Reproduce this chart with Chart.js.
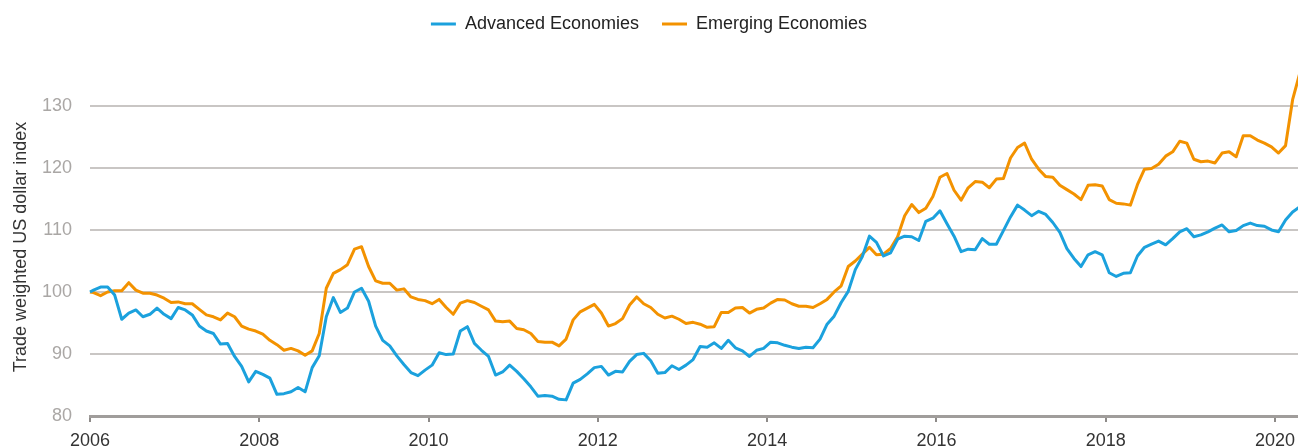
<!DOCTYPE html>
<html>
<head>
<meta charset="utf-8">
<script src="https://cdn.jsdelivr.net/npm/chart.js@4.4.1/dist/chart.umd.min.js"></script>
<style>
html,body{margin:0;padding:0;background:#ffffff;}
#wrap{width:1298px;height:448px;}
</style>
</head>
<body>
<div id="wrap"><canvas id="c" width="1298" height="448"></canvas></div>
<script>
// Index base: 100 at the start of 2006, then monthly values (Jan 2006 - Apr 2020)
const baseYear = 2006;
const baseValue = 100;

const advanced = [
  100.3,100.8,100.8,99.5,95.6,96.6,97.1,96.0,96.4,97.4,96.4,95.7,
  97.5,97.1,96.3,94.5,93.7,93.3,91.6,91.7,89.6,88.0,85.5,87.2,
  86.7,86.1,83.5,83.6,83.9,84.6,83.9,87.8,89.7,96.0,99.1,96.7,
  97.4,100.0,100.6,98.5,94.5,92.2,91.3,89.7,88.3,87.0,86.5,87.4,
  88.2,90.2,89.9,90.0,93.7,94.4,91.7,90.6,89.6,86.6,87.1,88.2,
  87.2,86.0,84.7,83.2,83.3,83.2,82.7,82.6,85.3,85.9,86.8,87.8,
  88.0,86.6,87.2,87.1,88.8,89.9,90.1,88.9,86.9,87.0,88.1,87.5,
  88.2,89.1,91.2,91.1,91.8,90.9,92.2,91.0,90.5,89.6,90.6,90.9,
  91.9,91.8,91.4,91.1,90.9,91.1,91.0,92.4,94.8,96.1,98.3,100.1,
  103.6,105.7,109.0,108.0,105.8,106.3,108.5,109.0,108.9,108.3,111.4,111.9,
  113.1,111.0,109.0,106.5,106.9,106.8,108.6,107.7,107.7,109.9,112.1,114.0,
  113.2,112.3,113.0,112.5,111.2,109.6,107.0,105.4,104.1,106.0,106.5,106.0,
  103.1,102.5,103.0,103.1,105.8,107.2,107.7,108.2,107.6,108.6,109.7,110.2,
  108.9,109.2,109.7,110.3,110.8,109.7,109.9,110.7,111.1,110.7,110.6,110.0,
  109.7,111.6,112.9,113.7
];

const emerging = [
  99.9,99.4,100.0,100.2,100.2,101.5,100.3,99.8,99.8,99.5,99.0,98.3,
  98.4,98.1,98.1,97.2,96.3,96.0,95.5,96.6,96.0,94.5,94.0,93.7,
  93.2,92.2,91.5,90.6,90.9,90.5,89.8,90.5,93.3,100.6,103.0,103.6,
  104.4,106.9,107.3,104.1,101.8,101.4,101.4,100.3,100.5,99.2,98.8,98.6,
  98.1,98.8,97.5,96.4,98.2,98.6,98.3,97.7,97.1,95.3,95.2,95.3,
  94.1,93.9,93.3,92.0,91.9,91.9,91.3,92.4,95.5,96.8,97.4,98.0,
  96.6,94.5,94.9,95.7,97.9,99.2,98.1,97.5,96.4,95.8,96.1,95.6,
  94.9,95.1,94.8,94.3,94.4,96.7,96.7,97.4,97.5,96.6,97.2,97.4,
  98.2,98.8,98.7,98.1,97.7,97.7,97.5,98.1,98.8,100.0,101.0,104.1,
  105.0,106.1,107.2,106.0,106.1,107.0,108.9,112.3,114.1,112.8,113.5,115.4,
  118.5,119.1,116.4,114.8,116.8,117.8,117.7,116.8,118.2,118.3,121.6,123.3,
  124.0,121.4,119.8,118.6,118.5,117.2,116.5,115.8,114.9,117.2,117.3,117.1,
  114.9,114.3,114.2,114.0,117.3,119.8,119.9,120.6,121.9,122.6,124.3,124.0,
  121.4,121.0,121.1,120.8,122.4,122.6,121.8,125.2,125.2,124.5,124.0,123.4,
  122.4,123.6,131.0,135.2
];

const xTickLabels = [2006, 2008, 2010, 2012, 2014, 2016, 2018, 2020];
const yTickLabels = [80, 90, 100, 110, 120, 130];
const seriesNames = ['Advanced Economies', 'Emerging Economies'];

// Month positions (mid-month) as decimal years
const monthX = advanced.map((_, k) => baseYear + (k + 0.5) / 12);
function toPoints(values) {
  return [{x: baseYear, y: baseValue}].concat(values.map((v, k) => ({x: monthX[k], y: v})));
}

const BLUE = '#1ba1dd';
const ORANGE = '#f39200';
const FONT = "'Liberation Sans', Arial, Helvetica, sans-serif";

new Chart(document.getElementById('c').getContext('2d'), {
  type: 'line',
  data: {
    datasets: [
      {label: seriesNames[0], data: toPoints(advanced), borderColor: BLUE, backgroundColor: BLUE,
       borderWidth: 3, pointRadius: 0, tension: 0, clip: false, borderJoinStyle: 'round',
       xAxisID: 'x', yAxisID: 'y'},
      {label: seriesNames[1], data: toPoints(emerging), borderColor: ORANGE, backgroundColor: ORANGE,
       borderWidth: 3, pointRadius: 0, tension: 0, clip: false, borderJoinStyle: 'round',
       xAxisID: 'x', yAxisID: 'y'}
    ]
  },
  options: {
    responsive: false,
    animation: false,
    devicePixelRatio: 1,
    layout: {padding: {top: -8, left: 0, right: 0, bottom: 0}},
    plugins: {
      legend: {
        position: 'top',
        labels: {
          boxWidth: 25, boxHeight: 3, padding: 23, color: '#222',
          font: {family: FONT, size: 18},
          generateLabels: (chart) => Chart.defaults.plugins.legend.labels.generateLabels(chart)
            .map(l => Object.assign(l, {lineWidth: 0}))
        }
      },
      tooltip: {enabled: false}
    },
    scales: {
      x: {
        type: 'linear', position: 'bottom', min: 2006, max: 2020.272,
        afterBuildTicks: s => { s.ticks = xTickLabels.map(v => ({value: v})); },
        ticks: {color: '#333', font: {family: FONT, size: 18}, padding: 8, maxRotation: 0, autoSkip: false,
                callback: v => String(v)},
        grid: {display: true, drawOnChartArea: false, drawTicks: true, tickLength: 6, color: '#8e8b89', lineWidth: 2},
        border: {display: true, color: '#a09d9b', width: 3},
        afterFit: s => { s.height = 32; s.paddingLeft = 0; s.paddingRight = 0; }
      },
      y: {
        type: 'linear', position: 'left', min: 80, max: 134.5,
        afterBuildTicks: s => { s.ticks = yTickLabels.map(v => ({value: v})); },
        ticks: {color: '#aaa7a5', font: {family: FONT, size: 18}, padding: 18},
        grid: {color: '#c9c6c4', lineWidth: 2, drawTicks: false},
        border: {display: false},
        title: {display: true, text: 'Trade weighted US dollar index', color: '#333',
                font: {family: FONT, size: 18}, padding: {top: 10, bottom: 0}},
        afterFit: s => { s.width = 90; }
      },
      pad: {
        type: 'linear', position: 'top', display: true,
        grid: {display: false, drawTicks: false}, border: {display: false},
        ticks: {display: false},
        afterFit: s => { s.height = 35; }
      }
    }
  }
});
</script>
</body>
</html>
